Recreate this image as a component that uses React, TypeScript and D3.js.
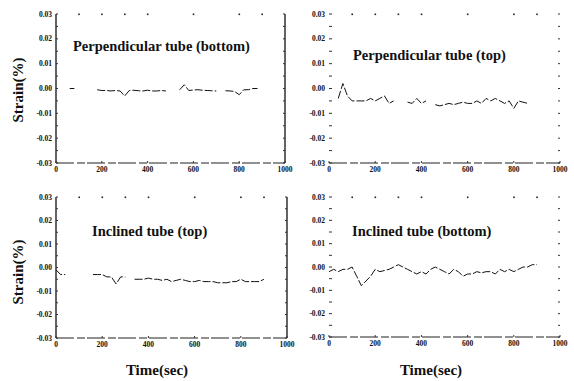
import React from "react";
import * as d3 from "d3";

const times = d3.range(0, 901, 20);
const xTicks = [0, 200, 400, 600, 800, 1000];
const yTicks = [0.03, 0.02, 0.01, 0.0, -0.01, -0.02, -0.03];
const yTickLabels = ["0.03", "0.02", "0.01", "0.00", "-0.01", "-0.02", "-0.03"];
const topDots = [100, 200, 300, 400, 600, 800, 900];

const perpBottom: (number | null)[] = [
  null, null, null, 0.0, 0.0, null, null, null, null, -0.0005,
  -0.0008, -0.0008, -0.001, -0.0008, -0.001, -0.003, -0.0008, -0.0007, -0.0009, -0.001,
  -0.0007, -0.001, -0.001, -0.0008, -0.001, null, null, -0.0005, 0.0015, -0.0008,
  -0.0006, -0.0005, -0.0007, -0.0008, -0.0009, -0.001, null, -0.0009, -0.001, -0.0012,
  -0.0025, -0.0005, -0.0005, 0.0, 0.0, null,
];
const perpTop: (number | null)[] = [
  null, null, -0.004, 0.002, -0.003, -0.005, -0.005, -0.005, -0.005, -0.004,
  -0.005, -0.004, -0.003, -0.006, -0.005, null, null, -0.0055, -0.006, -0.004,
  -0.006, -0.005, null, -0.0065, -0.007, -0.0065, -0.006, -0.0065, -0.006, -0.0055,
  -0.006, -0.006, -0.005, -0.006, -0.004, -0.005, -0.004, -0.005, -0.006, -0.005,
  -0.008, -0.005, -0.0055, -0.006, null, -0.006,
];
const inclTop: (number | null)[] = [
  -0.001, -0.003, -0.003, null, null, null, null, null, -0.003, -0.003,
  -0.003, -0.004, -0.004, -0.007, -0.004, -0.004, null, -0.005, -0.005, -0.005,
  -0.0045, -0.005, -0.005, -0.0055, -0.005, -0.006, -0.0055, -0.005, -0.0055, -0.006,
  -0.006, -0.0055, -0.006, -0.006, -0.006, -0.0065, -0.0065, -0.0065, -0.006, -0.006,
  -0.005, -0.006, -0.006, -0.006, -0.006, -0.005,
];
const inclBottom: (number | null)[] = [
  -0.002, -0.001, -0.002, -0.001, -0.001, 0.0, -0.004, -0.008, -0.006, -0.004,
  -0.001, -0.002, -0.0015, -0.001, 0.0, 0.001, 0.0, -0.001, -0.002, -0.003,
  -0.002, -0.003, -0.001, 0.0, -0.001, -0.002, -0.003, -0.001, -0.002, -0.004,
  -0.003, -0.003, -0.002, -0.0025, -0.002, -0.002, -0.003, -0.001, -0.002, -0.001,
  -0.002, -0.001, 0.0, 0.0, 0.001, 0.001,
];

const FONT = "'Liberation Serif', 'DejaVu Serif', serif";

type PanelProps = {
  x0: number; x1: number; y0: number; y1: number;
  values: (number | null)[];
  title: string; tx: number; ty: number;
  solid: boolean;
};

function Panel({ x0, x1, y0, y1, values, title, tx, ty, solid }: PanelProps) {
  const x = d3.scaleLinear().domain([0, 1000]).range([x0, x1]);
  const y = d3.scaleLinear().domain([-0.03, 0.03]).range([y1, y0]);
  const data = times.map((t, i) => ({ t, v: values[i] }));
  const line = d3
    .line<{ t: number; v: number | null }>()
    .defined((d) => d.v !== null)
    .x((d) => x(d.t))
    .y((d) => y(d.v as number));
  const minor = d3.range(-0.03, 0.0301, 0.005);
  return (
    <g>
      {solid ? (
        <>
          <line x1={x0} x2={x0} y1={y0} y2={y1} stroke="#222" strokeWidth={1.4} />
          <line x1={x1} x2={x1} y1={y0} y2={y1} stroke="#222" strokeWidth={1.4} />
        </>
      ) : null}
      <line x1={x0} x2={x1} y1={y1} y2={y1} stroke="#222" strokeWidth={1.2} strokeDasharray="18,3,8,2" />
      {minor.map((m, i) => (
        <g key={"m" + i}>
          <line x1={x0} x2={x0 + (solid ? 2 : 3)} y1={y(m)} y2={y(m)} stroke="#333" strokeWidth={1} />
          <line x1={x1} x2={x1 - 2} y1={y(m)} y2={y(m)} stroke="#333" strokeWidth={1} />
        </g>
      ))}
      {topDots.map((d) => (
        <rect key={"d" + d} x={x(d) - 0.7} y={y0 - 0.5} width={1.6} height={1.6} fill="#222" />
      ))}
      {yTicks.map((t, i) => (
        <text key={"y" + i} x={x0 - 4} y={y(t)} dy="0.35em" textAnchor="end"
          fontFamily={FONT} fontWeight="bold" fontSize={7.5} fill="#111">
          {yTickLabels[i]}
        </text>
      ))}
      {xTicks.map((t) => (
        <g key={"x" + t}>
          <line x1={x(t)} x2={x(t)} y1={y1} y2={y1 - 2} stroke="#333" />
          <text x={x(t)} y={y1 + 9} textAnchor="middle" fontFamily={FONT}
            fontWeight="bold" fontSize={7.5} fill="#111">{t}</text>
        </g>
      ))}
      <path d={line(data as any) || ""} fill="none" stroke="#111" strokeWidth={1} strokeDasharray="8,2" />
      <text x={tx} y={ty} fontFamily={FONT} fontWeight="bold" fontSize={14.5} fill="#111">{title}</text>
    </g>
  );
}

export default function App() {
  return (
    <svg width={574} height={381} style={{ position: "absolute", left: 0, top: 0, background: "#fff" }}>
      <rect width={574} height={381} fill="#fff" />
      <Panel x0={56} x1={285} y0={14} y1={163} values={perpBottom}
        title="Perpendicular tube (bottom)" tx={73} ty={51} solid={true} />
      <Panel x0={329} x1={560} y0={14} y1={163} values={perpTop}
        title="Perpendicular tube (top)" tx={353} ty={60} solid={false} />
      <Panel x0={56} x1={287} y0={197} y1={338} values={inclTop}
        title="Inclined tube (top)" tx={92} ty={236} solid={true} />
      <Panel x0={329} x1={560} y0={197} y1={337} values={inclBottom}
        title="Inclined tube (bottom)" tx={352} ty={236} solid={false} />
      <text transform="translate(23,90) rotate(-90)" textAnchor="middle" fontFamily={FONT}
        fontWeight="bold" fontSize={15} fill="#111">Strain(%)</text>
      <text transform="translate(23,272) rotate(-90)" textAnchor="middle" fontFamily={FONT}
        fontWeight="bold" fontSize={15} fill="#111">Strain(%)</text>
      <text x={157} y={375} textAnchor="middle" fontFamily={FONT} fontWeight="bold" fontSize={15} fill="#111">Time(sec)</text>
      <text x={431} y={375} textAnchor="middle" fontFamily={FONT} fontWeight="bold" fontSize={15} fill="#111">Time(sec)</text>
    </svg>
  );
}
